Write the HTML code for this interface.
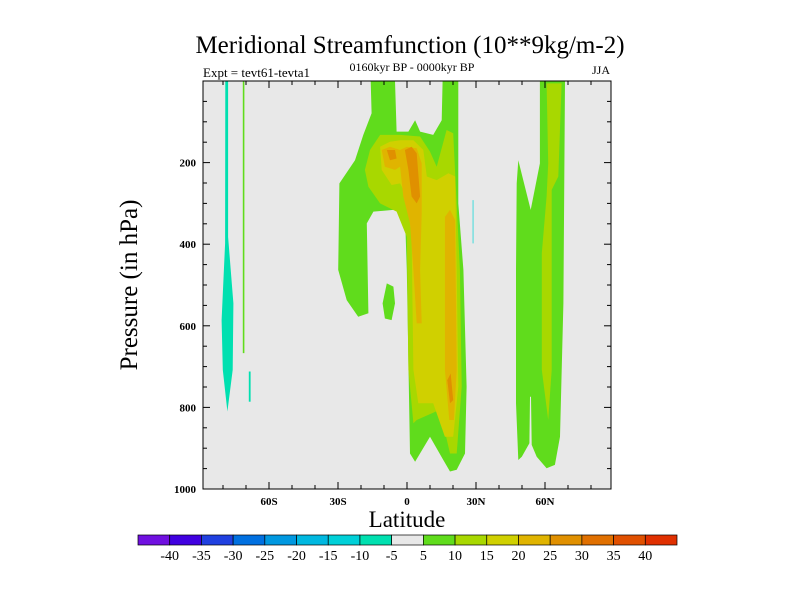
<!DOCTYPE html>
<html><head><meta charset="utf-8"><style>
body{margin:0;background:#fff;}
svg{display:block;font-family:"Liberation Serif",serif;}
</style></head><body>
<svg id="chart" width="800" height="600" viewBox="0 0 800 600">
<text x="410" y="53" font-size="25" text-anchor="middle">Meridional Streamfunction (10**9kg/m-2)</text>
<text x="203" y="77" font-size="13">Expt = tevt61-tevta1</text>
<text x="412" y="71" font-size="12" text-anchor="middle">0160kyr BP - 0000kyr BP</text>
<text x="610" y="74" font-size="12" text-anchor="end">JJA</text>
<rect x="203" y="81" width="408" height="408" fill="#e8e8e8"/>
<g id="fills"></g>
<g id="axes"></g>
<rect x="203" y="81" width="408" height="408" fill="none" stroke="#000" stroke-width="1"/>
<text transform="translate(137,285) rotate(-90)" font-size="25" text-anchor="middle">Pressure (in hPa)</text>
<text x="407" y="527" font-size="23" text-anchor="middle">Latitude</text>
<g id="cbar"></g>
</svg>
<script>
const levels=[-40,-35,-30,-25,-20,-15,-10,-5,5,10,15,20,25,30,35,40];
const levelColors=["#7010e0","#4000e0","#2040e0","#0070e0","#0098e0","#00b8e0","#00d0d8","#00e0b0","#e8e8e8","#60dc1c","#a8d800","#d0d000","#e0b400","#e09000","#e07000","#e05000","#e03000"];
const latTicks=[-60,-30,0,30,60];
const latTickLabels=["60S","30S","0","30N","60N"];
const pTicks=[200,400,600,800,1000];
// contour regions: [lat, pressure] pairs, with band index into levelColors
const greenMain=[[-15.8,0],[-5.2,0],[-4.5,124],[0.6,124],[3.5,96],[5.7,124],[11.4,132],[15.1,96],[15.5,0],[22.3,0],[22.3,300],[24.5,463],[25.9,749],[25.2,913],[21.6,953],[18.7,957],[15.8,929],[10,872],[3.5,933],[1.3,913],[-0.1,463],[-0.9,324],[-5.9,316],[-14.6,320],[-17.5,349],[-16.8,569],[-21.2,578],[-26.2,537],[-29.9,463],[-29.4,251],[-22.6,194],[-19,132],[-15.4,79]];
const greenIsland=[[-8.8,496],[-5.9,504],[-5.2,545],[-6.7,586],[-9.6,582],[-10.6,545]];
const greenNH=[[48.4,194],[53.8,316],[57.8,202],[57.8,0],[68.7,0],[68,545],[66.5,872],[64.3,941],[60.7,949],[56.4,921],[54.2,892],[53.9,774],[53.5,774],[53.2,888],[49.9,921],[48.4,929],[47.4,790],[47.4,463],[47.7,251]];
const greenThin=[[-71.4,0],[-70.7,0],[-70.7,667],[-71.4,667]];
const ygMain=[[-18.3,218],[-16.1,169],[-11.7,132],[-3,132],[5.7,136],[10,173],[12.9,210],[17.2,120],[20.1,128],[23,463],[23.8,749],[21.6,913],[18.7,913],[14.3,806],[4.2,831],[2.8,839],[0.6,708],[-0.1,382],[-4.5,320],[-11.7,300],[-16.8,259]];
const ygNH=[[60.7,6],[67.2,6],[65.8,234],[62.9,267],[62.9,708],[61.4,831],[58.6,708],[58.6,422],[60.7,283],[61.4,202]];
const yellowMain=[[-11.7,161],[-11,218],[-6.7,255],[-3,251],[-0.1,283],[2,382],[2.8,708],[4.9,790],[11.4,790],[16.5,872],[20.1,872],[22.3,749],[21.6,463],[20.9,234],[18,226],[12.9,243],[8.6,234],[7.1,169],[2.8,145],[-3,145],[-7.4,149]];
const orangeA=[[-11,169],[-7.4,161],[-3,169],[-0.1,161],[4.2,165],[6.4,202],[6.4,324],[5.7,463],[6.4,594],[4.2,594],[2.8,463],[1.3,349],[-1.6,283],[-3,210],[-5.2,218],[-9.6,210]];
const orangeB=[[16.5,333],[18.7,316],[20.9,341],[21.6,708],[20.4,831],[18.4,831],[16.5,708]];
const darkA=[[-0.9,169],[2,161],[4.2,177],[5.7,283],[4.2,300],[2,283],[0.6,218]];
const darkB=[[-8.8,169],[-5.2,169],[-4.5,190],[-7.4,194]];
const darkC=[[17.5,733],[19,717],[20.1,782],[18.7,790]];
const tealSH=[[-79,0],[-77.8,0],[-77.8,382],[-75.5,545],[-75.8,708],[-78.1,810],[-80.1,708],[-80.6,586],[-79.1,398]];
const tealSmall=[[-68.8,712],[-68,712],[-68,786],[-68.8,786]];
const tealNH=[[28.4,292],[29.1,292],[29.1,398],[28.4,398]];
const regions=[[greenMain,9,"green-region-tropics"],[greenIsland,9,"green-island"],[greenNH,9,"green-region-nh"],[greenThin,9,"green-thin-sh"],[ygMain,10,"yellowgreen-region-tropics"],[ygNH,10,"yellowgreen-region-nh"],[yellowMain,11,"yellow-region"],[orangeA,12,"orange-region-a"],[orangeB,12,"orange-region-b"],[darkA,13,"darkorange-region-a"],[darkB,13,"darkorange-region-b"],[darkC,13,"darkorange-region-c"],[tealSH,7,"teal-region-sh"],[tealSmall,7,"teal-small-sh"],[tealNH,6,"cyan-region-nh"]];

const X=lat=>407+lat*2.3;
const Y=p=>81+p*0.408;
const NS="http://www.w3.org/2000/svg";
const fills=document.getElementById('fills');
regions.forEach(r=>{
  const el=document.createElementNS(NS,'polygon');
  el.setAttribute('points',r[0].map(d=>X(d[0]).toFixed(1)+','+Y(d[1]).toFixed(1)).join(' '));
  el.setAttribute('fill',levelColors[r[1]]);
  if(r[2]==="cyan-region-nh") el.setAttribute('fill','#80e0e0');
  
  
  fills.appendChild(el);
});
const axes=document.getElementById('axes');
function line(x1,y1,x2,y2,name){
  const l=document.createElementNS(NS,'line');
  l.setAttribute('x1',x1);l.setAttribute('y1',y1);l.setAttribute('x2',x2);l.setAttribute('y2',y2);
  l.setAttribute('stroke','#000');l.setAttribute('stroke-width','1');
  
  
  axes.appendChild(l);
}
function text(x,y,s,anchor,name,size){
  const t=document.createElementNS(NS,'text');
  t.setAttribute('x',x);t.setAttribute('y',y);t.setAttribute('text-anchor',anchor);
  t.setAttribute('font-size',size);t.setAttribute('font-weight','bold');
  t.textContent=s;
  
  
  return t;
}
for(let lat=-80;lat<=80;lat+=10){
  const major=latTicks.includes(lat);const len=major?7:4;
  line(X(lat),489,X(lat),489-len,'x-tick');
  line(X(lat),81,X(lat),81+len,'x-tick-top');
}
latTicks.forEach((v,i)=>axes.appendChild(text(X(v),505,latTickLabels[i],'middle','x-tick-label',11)));
for(let p=50;p<1000;p+=50){
  const major=pTicks.includes(p);const len=major?7:4;
  line(203,Y(p),203+len,Y(p),'y-tick');
  line(611,Y(p),611-len,Y(p),'y-tick-right');
}
pTicks.forEach(v=>axes.appendChild(text(196,Y(v)+4,String(v),'end','y-tick-label',11)));
const cb=document.getElementById('cbar');
const cbX0=138,cbW=(677-138)/levelColors.length;
levelColors.forEach((c,i)=>{
  const r=document.createElementNS(NS,'rect');
  r.setAttribute('x',cbX0+i*cbW);r.setAttribute('y',535);r.setAttribute('width',cbW);r.setAttribute('height',10);
  r.setAttribute('fill',c);r.setAttribute('stroke','#000');r.setAttribute('stroke-width','0.7');
  
  
  cb.appendChild(r);
});
levels.forEach((v,i)=>{
  const t=text(cbX0+(i+1)*cbW,560,String(v),'middle','colorbar-label',14);
  t.setAttribute('font-weight','normal');
  cb.appendChild(t);
});
</script>
</body></html>
